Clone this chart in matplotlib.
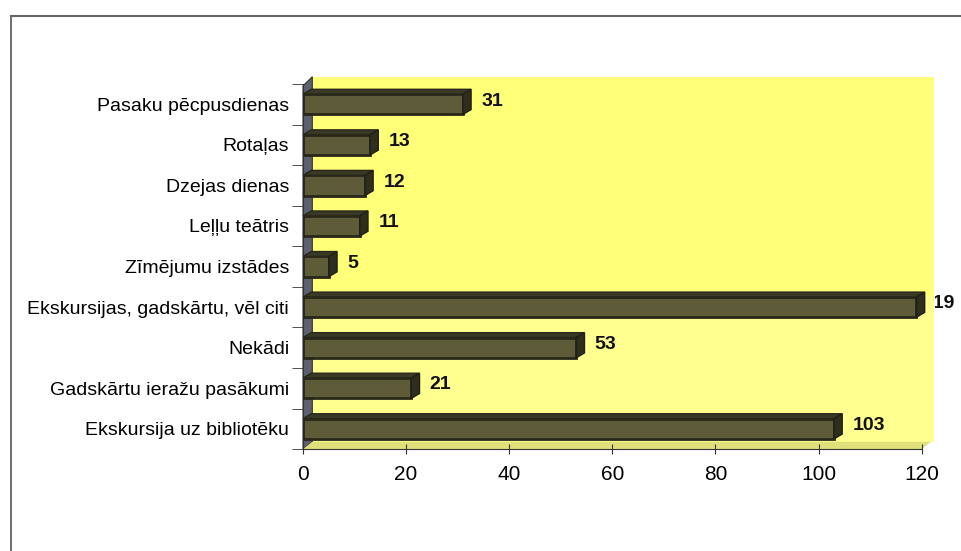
import numpy as np
import matplotlib
matplotlib.use("Agg")
from matplotlib import pyplot as plt
from matplotlib.patches import Polygon, Rectangle
from matplotlib.lines import Line2D
from matplotlib.transforms import Bbox, TransformedBbox

plt.rcParams['font.family'] = ['Liberation Sans', 'DejaVu Sans']

# data, bottom to top as drawn
categories = ['Ekskursija uz bibliotēku',
              'Gadskārtu ieražu pasākumi',
              'Nekādi',
              'Ekskursijas, gadskārtu, vēl citi',
              'Zīmējumu izstādes',
              'Leļļu teātris',
              'Dzejas dienas',
              'Rotaļas',
              'Pasaku pēcpusdienas']
values = [103, 21, 53, 119, 5, 11, 12, 13, 31]
xticks = [0, 20, 40, 60, 80, 100, 120]

fig = plt.figure(figsize=(9.62, 5.51), dpi=100)

# outer frame (left and top edges only are visible)
fig.add_artist(Line2D([0.011, 0.011], [0.0, 0.971], color='#555555', lw=1.2))
fig.add_artist(Line2D([0.011, 1.0], [0.971, 0.971], color='#666666', lw=1.5))

ax = fig.add_axes([0.315, 0.185, 0.643, 0.6625])
ax.set_facecolor('none')
ax.set_xlim(0, 120)
ax.set_ylim(-0.5, len(values) - 0.5)

# yellow back wall, slightly offset for the 3D look
ax.add_patch(Rectangle((0.015, 0.02), 1.005, 1.0, transform=ax.transAxes,
                       facecolor='#ffff78', edgecolor='none', zorder=0, clip_on=False))
ax.add_patch(Rectangle((0.015, 0.02), 1.005, 0.4, transform=ax.transAxes,
                       facecolor='#ffffa8', edgecolor='none', zorder=0.1, clip_on=False, alpha=0.5))
# left side wall
ax.add_patch(Polygon([[0.0, 0.0], [0.015, 0.02], [0.015, 1.02], [0.0, 0.995]],
                     closed=True, transform=ax.transAxes, facecolor='#5d6070',
                     edgecolor='#333333', lw=0.8, zorder=0.5, clip_on=False))
# floor
ax.add_patch(Polygon([[0.0, 0.0], [1.0, 0.0], [1.015, 0.02], [0.015, 0.02]],
                     closed=True, transform=ax.transAxes, facecolor='#e0e07a',
                     edgecolor='none', zorder=0.5, clip_on=False))

h = 0.5
dx, dy = 1.6, 0.12
ypos = np.arange(len(values))
ax.barh(ypos, values, height=h, color='#5e5c38', edgecolor='#28271a',
        linewidth=2, zorder=3)
for y, v in zip(ypos, values):
    top = [[0, y + h / 2], [v, y + h / 2], [v + dx, y + h / 2 + dy], [dx, y + h / 2 + dy]]
    side = [[v, y - h / 2], [v + dx, y - h / 2 + dy], [v + dx, y + h / 2 + dy], [v, y + h / 2]]
    ax.add_patch(Polygon(top, closed=True, facecolor='#3a3926', edgecolor='#28271a',
                         lw=1, zorder=3.1, clip_on=False))
    ax.add_patch(Polygon(side, closed=True, facecolor='#2e2d1e', edgecolor='#1f1f14',
                         lw=1, zorder=3.2, clip_on=False))
    if v + 12 > ax.get_xlim()[1]:
        # label pushed back inside the chart area, its first digit hidden
        t = ax.text(126.5, y + 0.08, str(v), va='center', ha='right', fontsize=14,
                    fontweight='bold', color='#111111', zorder=2.5)
        t.set_clip_box(TransformedBbox(Bbox([[v + dx + 2.0, -10], [200, 20]]), ax.transData))
        t.set_clip_on(True)
    else:
        ax.text(v + 3.6, y + 0.08, str(v), va='center', ha='left', fontsize=14,
                fontweight='bold', color='#111111', zorder=2.5, clip_on=False)

ax.set_yticks(ypos)
ax.set_yticklabels(categories, fontsize=14)
ax.set_yticks(np.arange(-0.5, len(values), 1.0), minor=True)
ax.tick_params(axis='y', which='major', length=0, pad=10)
ax.tick_params(axis='y', which='minor', length=8, direction='out', color='#333333')

ax.set_xticks(xticks)
ax.set_xticklabels([str(t) for t in xticks], fontsize=15)
ax.tick_params(axis='x', length=7, direction='inout', color='#333333', pad=8)

for s in ['top', 'right']:
    ax.spines[s].set_visible(False)
ax.spines['left'].set_color('#333333')
ax.spines['bottom'].set_color('#333333')
ax.spines['left'].set_zorder(1)

fig.savefig('out.png', dpi=100)
